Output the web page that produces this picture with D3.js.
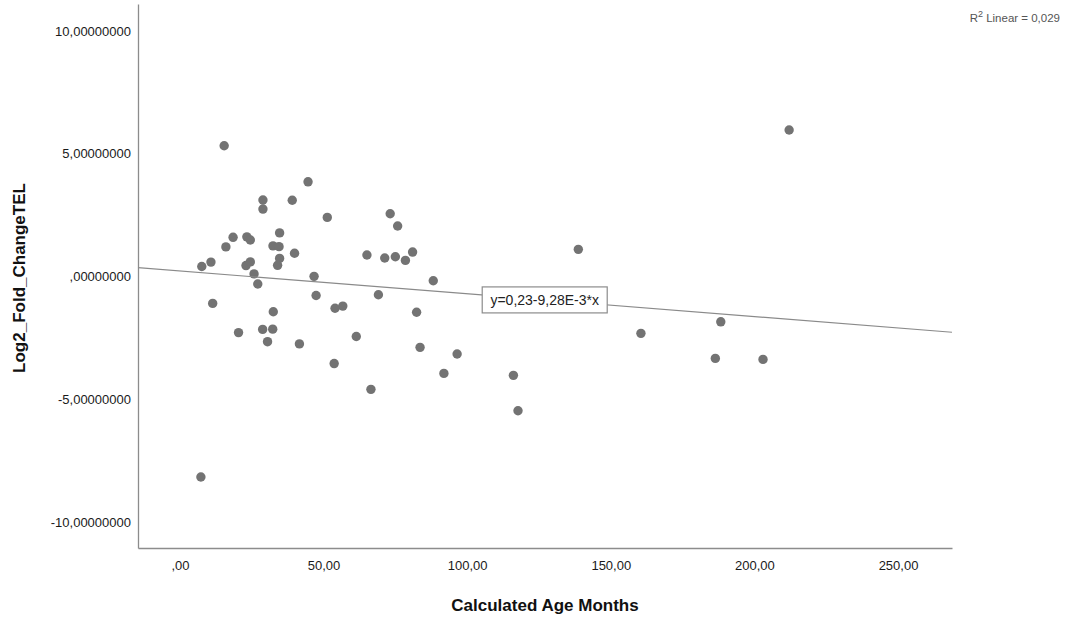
<!DOCTYPE html>
<html>
<head>
<meta charset="utf-8">
<script src="https://cdn.jsdelivr.net/npm/d3@7"></script>
<style>
  body { margin: 0; background: #fff; }
  svg text { font-family: "Liberation Sans", Arial, sans-serif; }
</style>
</head>
<body>
<svg class="chart"></svg>
<script>
// Calculated Age Months vs Log2_Fold_ChangeTEL
const ageMonths = [
  7.6, 7.3, 10.8, 11.4, 15.4, 16.0, 18.5, 20.4, 23.0, 23.3,
  24.5, 24.5, 25.8, 27.1, 28.8, 28.9, 28.9, 30.5, 32.3, 32.4,
  32.5, 34.7, 34.5, 34.7, 34.0, 39.1, 39.9, 41.6, 44.6, 46.7,
  47.4, 51.3, 53.7, 54.0, 56.7, 61.4, 65.1, 66.5, 69.1, 71.3,
  73.2, 75.0, 75.8, 78.5, 81.0, 82.4, 83.6, 88.2, 91.9, 96.5,
  116.1, 117.7, 138.7, 160.5, 186.4, 188.3, 203.0, 212.1
];
const log2FoldChange = [
  0.41, -8.16, 0.59, -1.09, 5.33, 1.21, 1.60, -2.28, 0.45, 1.62,
  1.49, 0.60, 0.11, -0.30, -2.15, 3.12, 2.75, -2.65, -2.14, 1.25,
  -1.43, 1.78, 1.22, 0.74, 0.46, 3.11, 0.95, -2.74, 3.86, 0.01,
  -0.77, 2.41, -3.54, -1.29, -1.20, -2.44, 0.88, -4.59, -0.74, 0.76,
  2.56, 0.81, 2.06, 0.66, 1.00, -1.45, -2.88, -0.17, -3.94, -3.15,
  -4.02, -5.46, 1.11, -2.31, -3.33, -1.84, -3.37, 5.97
];

const xTicks = [0, 50, 100, 150, 200, 250];
const xTickLabels = [',00', '50,00', '100,00', '150,00', '200,00', '250,00'];
const yTicks = [10, 5, 0, -5, -10];
const yTickLabels = ['10,00000000', '5,00000000', ',00000000', '-5,00000000', '-10,00000000'];

// fit line y = 0,23 - 9,28E-3 * x
const intercept = 0.23;
const slope = -0.00928;
const rSquared = '0,029';

let margin = { top: 4, right: 120, bottom: 74, left: 138 };
let width = 1072 - margin.left - margin.right;
let height = 622 - margin.top - margin.bottom;

let x = d3.scaleLinear()
    .domain([-14.6, 268.8])
    .range([0, width]);

let y = d3.scaleLinear()
    .domain([-11.05, 11.1])
    .range([height, 0]);

let svg = d3.select('.chart')
    .attr('width', 1072)
    .attr('height', 622);

let chart = svg.append('g')
    .attr('transform', `translate(${margin.left},${margin.top})`);

// axes: plain lines, no tick marks
let xAxis = d3.axisBottom(x)
    .tickValues(xTicks)
    .tickSize(0)
    .tickPadding(13)
    .tickFormat((d, i) => xTickLabels[i]);

let yAxis = d3.axisLeft(y)
    .tickValues(yTicks)
    .tickSize(0)
    .tickPadding(7)
    .tickFormat((d, i) => yTickLabels[i]);

let gx = chart.append('g')
    .attr('transform', `translate(0,${height})`)
    .call(xAxis);

let gy = chart.append('g')
    .call(yAxis);

[gx, gy].forEach(g => {
  g.select('.domain').attr('stroke', '#8c8c8c').attr('stroke-width', 1.3);
  g.selectAll('.tick text')
      .attr('fill', '#1a1a1a')
      .style('font-size', '13px')
      .style('font-family', '"Liberation Sans", Arial, sans-serif');
});

// axis titles
svg.append('text')
    .attr('x', 545)
    .attr('y', 611)
    .attr('text-anchor', 'middle')
    .style('font-size', '17px')
    .style('font-weight', 'bold')
    .attr('fill', '#111')
    .text('Calculated Age Months');

svg.append('text')
    .attr('transform', 'translate(25,278) rotate(-90)')
    .attr('text-anchor', 'middle')
    .style('font-size', '17px')
    .style('font-weight', 'bold')
    .attr('fill', '#111')
    .text('Log2_Fold_ChangeTEL');

// points
let data = ageMonths.map((d, i) => ({ age: d, fc: log2FoldChange[i] }));

chart.selectAll('.dot')
    .data(data)
  .enter().append('circle')
    .attr('class', 'dot')
    .attr('cx', d => x(d.age))
    .attr('cy', d => y(d.fc))
    .attr('r', 4.7)
    .attr('fill', '#737373');

// regression line across the full x range
let xr = x.domain();
chart.append('line')
    .attr('x1', x(xr[0]))
    .attr('y1', y(intercept + slope * xr[0]))
    .attr('x2', x(xr[1]))
    .attr('y2', y(intercept + slope * xr[1]))
    .attr('stroke', '#8a8a8a')
    .attr('stroke-width', 1.2);

// equation label on the line
let labelAt = 127;
let lbl = chart.append('g')
    .attr('transform', `translate(${x(labelAt)},${y(intercept + slope * labelAt)})`);

lbl.append('rect')
    .attr('x', -62.5)
    .attr('y', -13)
    .attr('width', 125)
    .attr('height', 26)
    .attr('fill', '#fff')
    .attr('stroke', '#8c8c8c')
    .attr('stroke-width', 1.2);

lbl.append('text')
    .attr('text-anchor', 'middle')
    .attr('dy', '0.36em')
    .style('font-size', '14px')
    .attr('fill', '#222')
    .text('y=0,23-9,28E-3*x');

// R² note
let r2 = svg.append('text')
    .attr('x', 1060)
    .attr('y', 22)
    .attr('text-anchor', 'end')
    .style('font-size', '11.5px')
    .attr('fill', '#555');
r2.append('tspan').text('R');
r2.append('tspan').attr('dy', -5).style('font-size', '9px').text('2');
r2.append('tspan').attr('dy', 5).text(' Linear = ' + rSquared);
</script>
</body>
</html>
